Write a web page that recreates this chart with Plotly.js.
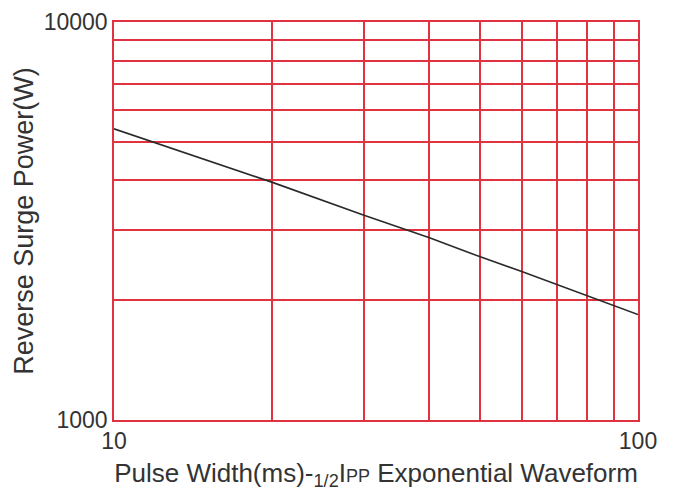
<!DOCTYPE html>
<html>
<head>
<meta charset="utf-8">
<script src="https://cdn.plot.ly/plotly-3.0.1.min.js"></script>
<style>html,body{margin:0;padding:0;background:#fff;}#chart{width:673px;height:492px;}</style>
</head>
<body>
<div id="chart"></div>
<script>
// Data
const pulseWidth = [10, 20, 30, 40, 50, 60, 100];
const surgePower = [5390, 3960, 3270, 2870, 2570, 2360, 1840];

// Gridlines / tick labels
const xGridVals = [10, 20, 30, 40, 50, 60, 70, 80, 90, 100];
const xTickText = ['10', '', '', '', '', '', '', '', '', '100'];
const yGridVals = [1000, 2000, 3000, 4000, 5000, 6000, 7000, 8000, 9000, 10000];
const yTickText = ['1000', '', '', '', '', '', '', '', '', '10000'];

const red = '#e0323f';
const font = 'Liberation Sans, Arial, sans-serif';

const trace = {
  x: pulseWidth,
  y: surgePower,
  type: 'scatter',
  mode: 'lines',
  line: {color: '#2a2a2a', width: 1.6},
  hoverinfo: 'x+y'
};

const layout = {
  width: 673,
  height: 492,
  margin: {l: 114, r: 35, t: 22, b: 72},
  paper_bgcolor: '#ffffff',
  plot_bgcolor: '#ffffff',
  showlegend: false,
  font: {family: font, color: '#333333'},
  xaxis: {
    type: 'log',
    range: [1, 2],
    tickmode: 'array',
    tickvals: xGridVals,
    ticktext: xTickText,
    ticks: '',
    showgrid: true,
    gridcolor: red,
    gridwidth: 1.5,
    showline: true,
    linecolor: red,
    linewidth: 1.5,
    mirror: true,
    zeroline: false,
    tickfont: {size: 23, family: font, color: '#333333'},
    automargin: false,
    title: {
      text: 'Pulse Width(ms)-<sub>1/2</sub>I<span style="font-size:18px">PP</span> Exponential Waveform',
      font: {size: 26, family: font, color: '#333333'},
      standoff: 10
    }
  },
  yaxis: {
    type: 'log',
    range: [3, 4],
    tickmode: 'array',
    tickvals: yGridVals,
    ticktext: yTickText,
    ticks: '',
    showgrid: true,
    gridcolor: red,
    gridwidth: 1.5,
    showline: true,
    linecolor: red,
    linewidth: 1.5,
    mirror: true,
    zeroline: false,
    tickfont: {size: 23, family: font, color: '#333333'},
    automargin: false,
    title: {
      text: 'Reverse Surge Power(W)',
      font: {size: 27, family: font, color: '#333333'},
      standoff: 2
    }
  }
};

Plotly.newPlot('chart', [trace], layout, {displayModeBar: false, staticPlot: false});
</script>
</body>
</html>
